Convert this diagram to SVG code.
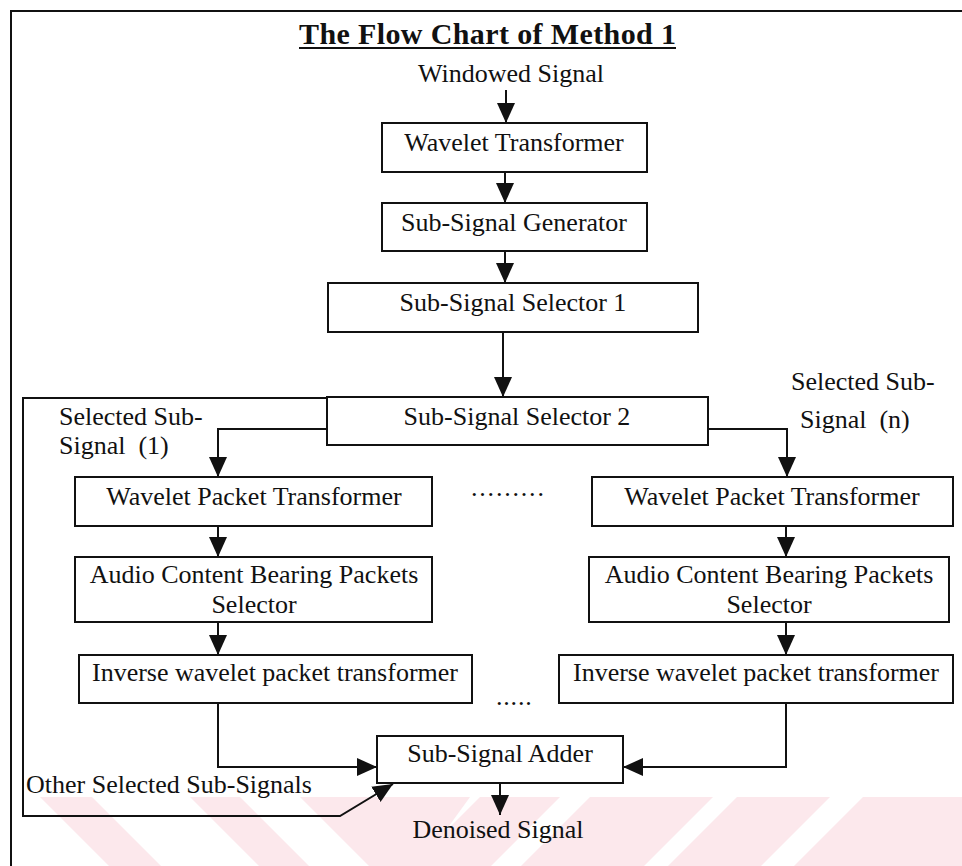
<svg xmlns="http://www.w3.org/2000/svg" width="962" height="866" viewBox="0 0 962 866">
<defs>
<style>
.t{font-family:"Liberation Serif","Times New Roman",serif;font-size:26px;fill:#111;}
.c{text-anchor:middle;}
.ttl{font-family:"Liberation Serif","Times New Roman",serif;font-size:30px;font-weight:bold;fill:#111;text-anchor:middle;}
.box{fill:#fff;stroke:#111;stroke-width:2;}
.ln{fill:none;stroke:#111;stroke-width:2;}
.wm{fill:#fce8ec;}
</style>
<marker id="ah" markerUnits="userSpaceOnUse" markerWidth="22" markerHeight="20" refX="20" refY="9" orient="auto">
<path d="M0,0 L20,9 L0,18 Z" fill="#111"/>
</marker>
<clipPath id="wmclip"><rect x="30" y="797" width="932" height="69"/></clipPath>
</defs>
<rect width="962" height="866" fill="#fff"/>
<g id="watermark" clip-path="url(#wmclip)">
<polygon class="wm" points="40,797 92,797 161,866 109,866"/>
<polygon class="wm" points="190,797 240,797 309,866 259,866"/>
<polygon class="wm" points="300,797 470,797 420,866 369,866"/>
<polygon class="wm" points="480,797 560,797 491,866 411,866"/>
<polygon class="wm" points="590,797 713,797 644,866 521,866"/>
<polygon class="wm" points="737,797 830,797 761,866 668,866"/>
<polygon class="wm" points="863,797 962,797 962,866 794,866"/>
</g>
<g id="frame">
<polyline class="ln" points="11,866 11,11 962,11"/>
</g>
<g id="title">
<text class="ttl" x="487.5" y="44" textLength="377" lengthAdjust="spacing">The Flow Chart of Method 1</text>
<line x1="299" y1="48" x2="676" y2="48" stroke="#111" stroke-width="2"/>
</g>
<g id="connectors">
<line class="ln" x1="506" y1="90" x2="506" y2="123" marker-end="url(#ah)"/>
<line class="ln" x1="505" y1="172" x2="505" y2="203" marker-end="url(#ah)"/>
<line class="ln" x1="505" y1="251" x2="505" y2="283" marker-end="url(#ah)"/>
<line class="ln" x1="503" y1="332" x2="503" y2="397" marker-end="url(#ah)"/>
<polyline class="ln" points="327,429 218,429 218,477" marker-end="url(#ah)"/>
<polyline class="ln" points="708,429 787,429 787,477" marker-end="url(#ah)"/>
<line class="ln" x1="218" y1="526" x2="218" y2="557" marker-end="url(#ah)"/>
<line class="ln" x1="786" y1="526" x2="786" y2="557" marker-end="url(#ah)"/>
<line class="ln" x1="218" y1="622" x2="218" y2="655" marker-end="url(#ah)"/>
<line class="ln" x1="786" y1="622" x2="786" y2="655" marker-end="url(#ah)"/>
<polyline class="ln" points="218,703 218,767 377,767" marker-end="url(#ah)"/>
<polyline class="ln" points="786,703 786,767 623,767" marker-end="url(#ah)"/>
<line class="ln" x1="500" y1="783" x2="500" y2="815" marker-end="url(#ah)"/>
<polyline class="ln" points="327,398 23,398 23,816 340,816 393,784" marker-end="url(#ah)"/>
</g>
<g id="windowed-signal">
<text class="t c" x="511" y="82">Windowed Signal</text>
</g>
<g id="wavelet-transformer">
<rect class="box" x="382" y="123" width="265" height="49"/>
<text class="t c" x="514" y="151">Wavelet Transformer</text>
</g>
<g id="sub-signal-generator">
<rect class="box" x="382" y="203" width="265" height="48"/>
<text class="t c" x="514" y="231">Sub-Signal Generator</text>
</g>
<g id="sub-signal-selector-1">
<rect class="box" x="328" y="283" width="370" height="49"/>
<text class="t c" x="513" y="311">Sub-Signal Selector 1</text>
</g>
<g id="sub-signal-selector-2">
<rect class="box" x="327" y="397" width="381" height="48"/>
<text class="t c" x="517" y="425">Sub-Signal Selector 2</text>
</g>
<g id="label-selected-1">
<text class="t" x="59" y="425">Selected Sub-</text>
<text class="t" x="59" y="454" xml:space="preserve">Signal  (1)</text>
</g>
<g id="label-selected-n">
<text class="t" x="791" y="390">Selected Sub-</text>
<text class="t" x="800" y="428" xml:space="preserve">Signal  (n)</text>
</g>
<g id="wpt-1">
<rect class="box" x="75" y="477" width="357" height="49"/>
<text class="t c" x="254" y="505">Wavelet Packet Transformer</text>
</g>
<g id="dots-1">
<text class="t" x="471" y="496" style="letter-spacing:1.8px">.........</text>
</g>
<g id="wpt-n">
<rect class="box" x="592" y="477" width="361" height="49"/>
<text class="t c" x="772" y="505">Wavelet Packet Transformer</text>
</g>
<g id="acbps-1">
<rect class="box" x="75" y="557" width="357" height="65"/>
<text class="t c" x="254" y="583">Audio Content Bearing Packets</text>
<text class="t c" x="254" y="613">Selector</text>
</g>
<g id="acbps-n">
<rect class="box" x="589" y="557" width="360" height="65"/>
<text class="t c" x="769" y="583">Audio Content Bearing Packets</text>
<text class="t c" x="769" y="613">Selector</text>
</g>
<g id="iwpt-1">
<rect class="box" x="79" y="655" width="393" height="48"/>
<text class="t c" x="275" y="681">Inverse wavelet packet transformer</text>
</g>
<g id="iwpt-n">
<rect class="box" x="559" y="655" width="394" height="48"/>
<text class="t c" x="756" y="681">Inverse wavelet packet transformer</text>
</g>
<g id="dots-2">
<text class="t" x="496" y="705" style="letter-spacing:0.8px">.....</text>
</g>
<g id="sub-signal-adder">
<rect class="box" x="377" y="736" width="246" height="47"/>
<text class="t c" x="500" y="762">Sub-Signal Adder</text>
</g>
<g id="label-other">
<text class="t" x="26" y="793">Other Selected Sub-Signals</text>
</g>
<g id="denoised-signal">
<text class="t c" x="498" y="838">Denoised Signal</text>
</g>
</svg>
